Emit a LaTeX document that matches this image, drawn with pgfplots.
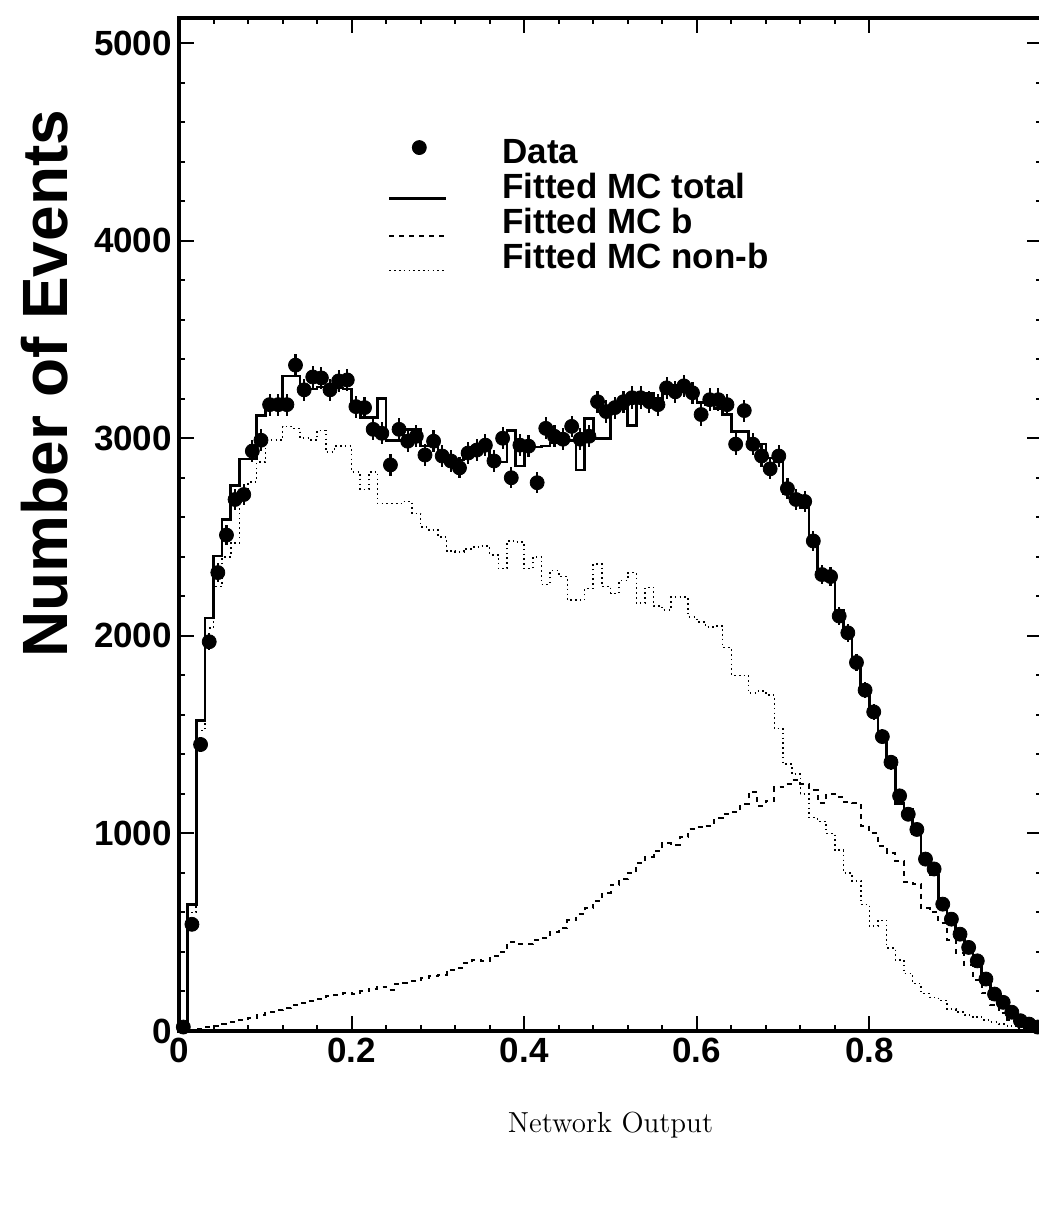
\documentclass[border=0pt]{standalone}
\usepackage{fontspec}
\usepackage{pgfplots}
\pgfplotsset{compat=1.18}
\usepackage{pgfplotstable}
\newfontfamily\hv{Liberation Sans}

\pgfplotstableread{
x y e
0.005 20 4
0.015 540 23
0.025 1450 38
0.035 1970 44
0.045 2320 48
0.055 2510 50
0.065 2690 52
0.075 2715 52
0.085 2935 54
0.095 2990 55
0.105 3170 56
0.115 3170 56
0.125 3170 56
0.135 3370 58
0.145 3245 57
0.155 3310 58
0.165 3305 57
0.175 3245 57
0.185 3290 57
0.195 3295 57
0.205 3160 56
0.215 3155 56
0.225 3045 55
0.235 3025 55
0.245 2865 54
0.255 3045 55
0.265 2985 55
0.275 3010 55
0.285 2915 54
0.295 2985 55
0.305 2910 54
0.315 2885 54
0.325 2850 53
0.335 2925 54
0.345 2940 54
0.355 2965 54
0.365 2885 54
0.375 3000 55
0.385 2800 53
0.395 2965 54
0.405 2960 54
0.415 2775 53
0.425 3050 55
0.435 3010 55
0.445 2995 55
0.455 3060 55
0.465 2995 55
0.475 3010 55
0.485 3185 56
0.495 3135 56
0.505 3155 56
0.515 3185 56
0.525 3205 57
0.535 3205 57
0.545 3185 56
0.555 3170 56
0.565 3255 57
0.575 3235 57
0.585 3265 57
0.595 3230 57
0.605 3120 56
0.615 3195 57
0.625 3195 57
0.635 3170 56
0.645 2970 54
0.655 3140 56
0.665 2970 54
0.675 2910 54
0.685 2845 53
0.695 2910 54
0.705 2745 52
0.715 2690 52
0.725 2680 52
0.735 2480 50
0.745 2310 48
0.755 2300 48
0.765 2100 46
0.775 2015 45
0.785 1865 43
0.795 1725 42
0.805 1615 40
0.815 1490 39
0.825 1360 37
0.835 1190 34
0.845 1097 33
0.855 1020 32
0.865 870 29
0.875 820 29
0.885 642 25
0.895 566 24
0.905 490 22
0.915 423 21
0.925 355 19
0.935 263 16
0.945 187 14
0.955 145 12
0.965 95 10
0.975 52 7
0.985 35 6
0.995 20 4
}\datatab

\pgfplotstableread{
x tot b nb
0.00 10 0 5
0.01 640 5 600
0.02 1570 10 1520
0.03 2090 20 2040
0.04 2405 25 2250
0.05 2590 35 2400
0.06 2760 45 2470
0.07 2895 55 2700
0.08 2895 65 2780
0.09 3115 80 2880
0.10 3180 95 2990
0.11 3180 105 2990
0.12 3315 115 3060
0.13 3315 130 3050
0.14 3240 140 3000
0.15 3250 150 2990
0.16 3260 160 3040
0.17 3250 175 2930
0.18 3255 180 2960
0.19 3250 190 2960
0.20 3180 185 2830
0.21 3105 200 2740
0.22 3105 215 2830
0.23 3200 225 2670
0.24 2990 210 2670
0.25 2990 240 2670
0.26 3045 245 2680
0.27 3045 255 2620
0.28 2960 270 2550
0.29 2960 280 2535
0.30 2930 285 2500
0.31 2900 310 2430
0.32 2890 320 2425
0.33 2910 345 2440
0.34 2940 360 2450
0.35 2950 355 2455
0.36 2880 380 2410
0.37 2880 400 2340
0.38 3040 450 2480
0.39 2860 440 2475
0.40 2955 440 2340
0.41 2955 460 2400
0.42 2960 470 2260
0.43 2975 500 2330
0.44 2990 520 2300
0.45 2990 560 2180
0.46 2840 590 2180
0.47 3100 620 2240
0.48 3000 660 2365
0.49 3000 700 2250
0.50 3150 740 2215
0.51 3150 770 2280
0.52 3065 800 2320
0.53 3220 850 2165
0.54 3225 880 2245
0.55 3200 910 2150
0.56 3260 950 2130
0.57 3270 940 2195
0.58 3250 980 2195
0.59 3230 1020 2095
0.60 3180 1030 2070
0.61 3170 1040 2045
0.62 3150 1080 2050
0.63 3120 1100 1940
0.64 3035 1110 1800
0.65 3035 1150 1800
0.66 2970 1210 1710
0.67 2970 1140 1720
0.68 2900 1165 1700
0.69 2880 1235 1530
0.70 2720 1250 1350
0.71 2710 1270 1300
0.72 2650 1250 1200
0.73 2480 1220 1080
0.74 2310 1155 1060
0.75 2300 1200 1000
0.76 2130 1185 915
0.77 2000 1160 800
0.78 1880 1155 760
0.79 1740 1040 640
0.80 1620 1000 530
0.81 1500 935 560
0.82 1380 900 420
0.83 1150 860 360
0.84 1120 755 290
0.85 1000 745 240
0.86 880 620 190
0.87 790 600 170
0.88 650 545 155
0.89 560 460 110
0.90 470 395 95
0.91 400 335 80
0.92 340 260 70
0.93 250 190 55
0.94 190 130 45
0.95 140 90 35
0.96 90 56 25
0.97 55 35 15
0.98 30 20 8
0.99 15 10 4
1.00 15 10 4
}\histtab

\begin{document}
\begin{tikzpicture}
\useasboundingbox (-89.5pt,-96.5pt) rectangle (429.5pt,515.5pt);
\begin{axis}[
  at={(0pt,0pt)}, anchor=south west,
  scale only axis, width=431.5pt, height=506.5pt,
  xmin=0, xmax=1, ymin=0, ymax=5127,
  xtick={0,0.2,0.4,0.6,0.8},
  minor x tick num=4,
  ytick={0,1000,2000,3000,4000,5000},
  minor y tick num=4,
  tick pos=both,
  tick align=inside,
  major tick length=7.5pt, minor tick length=3pt,
  axis line style={line width=1.8pt},
  every tick/.style={black, line width=1pt},
  /pgf/number format/assume math mode=true,
  /pgf/number format/1000 sep={},
  scaled y ticks=false,
  xticklabel style={font=\hv\bfseries\fontsize{17.5}{20}\selectfont, /pgf/number format/fixed, /pgf/number format/precision=1},
  yticklabel style={font=\hv\bfseries\fontsize{17.5}{20}\selectfont},
  xlabel={Network Output},
  xlabel style={at={(axis description cs:0.5,-0.0928)}, anchor=center, font=\fontsize{14.5}{17}\selectfont},
  ylabel={Number of Events},
  ylabel style={at={(axis description cs:-0.156,0.639)}, anchor=center, font=\hv\bfseries\fontsize{32}{38}\selectfont},
  legend style={at={(axis description cs:0.2422,0.884)}, anchor=north west, draw=none, fill=none,
    inner sep=0pt, outer sep=0pt, row sep=-0.75pt, column sep=0pt,
    font=\hv\bfseries\fontsize{17.5}{20}\selectfont,
    cells={anchor=base west, inner sep=0pt}},
]
\addplot[only marks, mark=*, mark size=3.5pt, black, mark options={solid, fill=black},
  legend image code/.code={\path[draw=none,fill=none] (0pt,-3pt) rectangle (54.5pt,13pt); \fill[black] (15pt,8pt) circle (3.5pt);},
  error bars/.cd, y dir=both, y explicit, error bar style={line width=1.1pt, black}, error mark=none]
  table[x=x, y=y, y error=e]{\datatab};
\addlegendentry{Data}
\addplot[const plot, black, line width=1.3pt, forget plot] table[x=x, y=tot]{\histtab};
\addplot[const plot, black, line width=1pt, dash pattern=on 2.5pt off 2.5pt, forget plot] table[x=x, y=b]{\histtab};
\addplot[const plot, black, line width=0.8pt, dash pattern=on 0.8pt off 1.6pt, forget plot] table[x=x, y=nb]{\histtab};
\addlegendimage{legend image code/.code={\path[draw=none,fill=none] (0pt,-3pt) rectangle (54.5pt,13pt); \draw[black, solid, line width=1.3pt] (0pt,0pt) -- (28.5pt,0pt);}}
\addlegendentry{Fitted MC total}
\addlegendimage{legend image code/.code={\path[draw=none,fill=none] (0pt,-3pt) rectangle (54.5pt,13pt); \draw[black, line width=1pt, dash pattern=on 2.5pt off 2.5pt] (0pt,-1.2pt) -- (28.5pt,-1.2pt);}}
\addlegendentry{Fitted MC b}
\addlegendimage{legend image code/.code={\path[draw=none,fill=none] (0pt,-3pt) rectangle (54.5pt,13pt); \draw[black, line width=0.8pt, dash pattern=on 0.8pt off 1.6pt] (0pt,-1.2pt) -- (28.5pt,-1.2pt);}}
\addlegendentry{Fitted MC non-b}
\end{axis}
\end{tikzpicture}
\end{document}
